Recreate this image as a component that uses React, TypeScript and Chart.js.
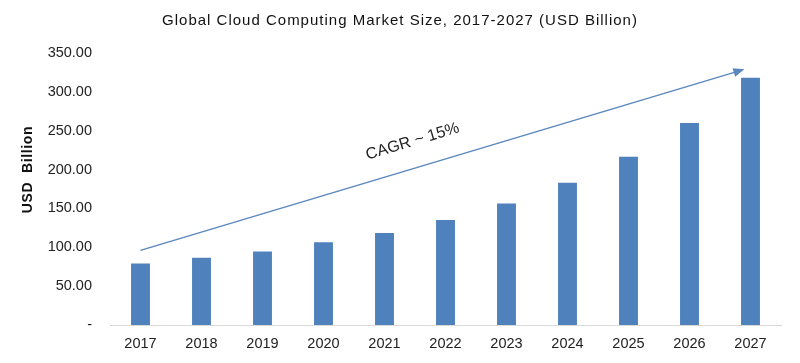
import React, { useEffect, useRef } from "react";
import { Chart, registerables } from "chart.js";

Chart.register(...registerables);

const years = ["2017", "2018", "2019", "2020", "2021", "2022", "2023", "2024", "2025", "2026", "2027"];
const marketSize = [79, 86.5, 94.5, 106.5, 118.5, 135, 156.5, 183, 216.5, 260, 318];
const titleText = "Global Cloud Computing Market Size, 2017-2027 (USD Billion)";
const yAxisTitle = "USD  Billion";
const cagrLabel = "CAGR ~ 15%";
// arrow in data coordinates: [category index, value]
const arrowStart = [0, 96];
const arrowEnd = [9.9, 329];
const cagrPos = [4.46, 236];
// y-axis title centre, in value units
const yTitleValue = 200;

const FONT = "'Liberation Sans', Arial, sans-serif";

const decorPlugin = {
  id: "decor",
  afterDatasetsDraw(chart: any) {
    const { ctx, scales, width } = chart;
    const x = scales.x;
    const y = scales.y;
    const x0 = x.getPixelForValue(arrowStart[0]);
    const y0 = y.getPixelForValue(arrowStart[1]);
    const x1 = x.getPixelForValue(arrowEnd[0]);
    const y1 = y.getPixelForValue(arrowEnd[1]);
    const ang = Math.atan2(y1 - y0, x1 - x0);
    ctx.save();
    ctx.strokeStyle = "#5B87BF";
    ctx.fillStyle = "#5B87BF";
    ctx.lineWidth = 1.5;
    const head = 11;
    ctx.beginPath();
    ctx.moveTo(x0, y0);
    ctx.lineTo(x1 - Math.cos(ang) * head * 0.8, y1 - Math.sin(ang) * head * 0.8);
    ctx.stroke();
    ctx.beginPath();
    ctx.moveTo(x1, y1);
    ctx.lineTo(x1 - head * Math.cos(ang) + 4.5 * Math.sin(ang), y1 - head * Math.sin(ang) - 4.5 * Math.cos(ang));
    ctx.lineTo(x1 - head * Math.cos(ang) - 4.5 * Math.sin(ang), y1 - head * Math.sin(ang) + 4.5 * Math.cos(ang));
    ctx.closePath();
    ctx.fill();
    ctx.restore();

    // CAGR label
    ctx.save();
    const cx = x.getPixelForValue(cagrPos[0]);
    const cy = y.getPixelForValue(cagrPos[1]);
    ctx.translate(cx, cy);
    ctx.rotate(ang);
    ctx.fillStyle = "#222222";
    ctx.font = "16px " + FONT;
    ctx.textAlign = "center";
    ctx.textBaseline = "middle";
    ctx.fillText(cagrLabel, 0, 0);
    ctx.restore();

    // chart title
    ctx.save();
    ctx.fillStyle = "#111111";
    ctx.font = "15px " + FONT;
    (ctx as any).letterSpacing = "1px";
    ctx.textAlign = "center";
    ctx.textBaseline = "middle";
    ctx.fillText(titleText, width / 2, 21);
    ctx.restore();

    // y-axis title
    ctx.save();
    ctx.translate(28, y.getPixelForValue(yTitleValue));
    ctx.rotate(-Math.PI / 2);
    ctx.fillStyle = "#111111";
    ctx.font = "bold 14px " + FONT;
    (ctx as any).letterSpacing = "0.6px";
    ctx.textAlign = "center";
    ctx.textBaseline = "middle";
    ctx.fillText(yAxisTitle, 0, 0);
    ctx.restore();
  },
};

export default function App() {
  const ref = useRef<HTMLCanvasElement | null>(null);
  useEffect(() => {
    if (!ref.current) return;
    const chart = new Chart(ref.current, {
      type: "bar",
      data: {
        labels: years,
        datasets: [
          {
            data: marketSize,
            backgroundColor: "#4F81BD",
            borderWidth: 0,
            barPercentage: 0.31,
            categoryPercentage: 1,
          },
        ],
      },
      options: {
        animation: false,
        responsive: false,
        maintainAspectRatio: false,
        layout: { padding: { left: 0, right: 19, top: 53, bottom: 0 } },
        plugins: {
          legend: { display: false },
          tooltip: { enabled: false },
          title: { display: false },
        },
        scales: {
          x: {
            grid: { display: false, drawTicks: false },
            border: { display: true, color: "#D9D9D9", width: 1 },
            ticks: { color: "#222222", font: { family: FONT, size: 14.5 }, padding: 10 },
            afterFit: (s: any) => {
              s.height = 38;
            },
          },
          y: {
            min: 0,
            max: 350,
            grid: { display: false, drawTicks: false },
            border: { display: false },
            ticks: {
              stepSize: 50,
              color: "#222222",
              font: { family: FONT, size: 14.5 },
              padding: 18,
              callback: (v: any) => (Number(v) === 0 ? "-" : Number(v).toFixed(2)),
            },
            afterFit: (s: any) => {
              s.width = 110;
            },
          },
        },
      },
      plugins: [decorPlugin],
    });
    return () => chart.destroy();
  }, []);
  return (
    <div style={{ position: "fixed", left: 0, top: 0, width: 800, height: 363, background: "#fff" }}>
      <canvas ref={ref} width={800} height={363} style={{ width: 800, height: 363 }} />
    </div>
  );
}
